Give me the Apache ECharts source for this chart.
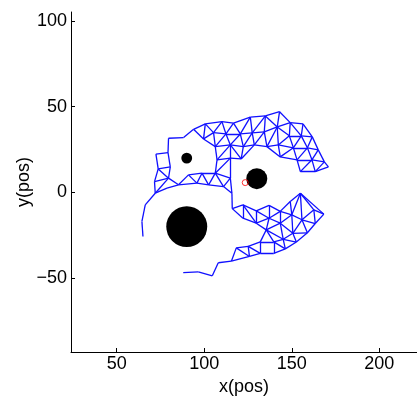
<!DOCTYPE html>
<html>
<head>
<meta charset="utf-8">
<script src="https://cdn.jsdelivr.net/npm/echarts@6/dist/echarts.min.js"></script>
<style>
  html, body { margin: 0; padding: 0; background: #fff; }
  #chart { width: 417px; height: 403px; }
</style>
</head>
<body>
<div id="chart"></div>
<script>
// Tick labels on each axis
const xTickValues = [50, 100, 150, 200];
const yTickValues = [-50, 0, 50, 100];

// Obstacles: centre and radius (data units)
const obstacleX = [90, 130, 90];
const obstacleY = [-20, 8, 20];
const obstacleR = [11.7, 6.0, 3.1];

// Target point
const targetX = [123.4];
const targetY = [5.7];

// Mesh nodes, left "head" part
const headNodes = {
  a1: [79.6, 31.6], a2: [88.2, 32.0], a3: [93.9, 36.8], a4: [79.3, 23.2],
  a5: [72.4, 22.3], a6: [73.7, 13.7], a7: [80.6, 14.9], a8: [71.6, 6.3],
  a9: [79.6, 8.3], a10: [72.0, -0.5], a11: [66.3, -7.3], a12: [64.4, -17.0],
  a13: [65.0, -25.8],
  d1: [78.7, 2.5], d2: [85.3, 4.4], d5: [91.0, 10.2], d3: [95.8, 5.4],
  d6: [98.7, 11.2], d4: [102.5, 4.4],
  c3: [106.3, 11.2], c5: [111.0, 3.4], c6: [115.8, -0.5], c4: [114.9, 8.3],
  c2: [114.9, 20.0],
  b1: [100.6, 40.0], b2: [99.6, 31.2], b3: [105.3, 34.9], b4: [110.1, 41.3],
  b6: [112.4, 34.1], b7: [106.3, 26.7], b8: [107.3, 19.0]
};

// Mesh nodes, upper band
const upperNodes = {
  t0: [116.7, 40.4], t1: [126.3, 43.9], t2: [134.9, 44.6], t3: [143.0, 47.1],
  t4: [149.1, 40.7], t5: [156.4, 40.0],
  r1b: [120.6, 34.1], r1c: [127.4, 34.7], r1d: [134.3, 35.3], r1e: [141.7, 38.2],
  r1f: [148.6, 33.0], r1g: [155.4, 33.0], r1h: [161.7, 32.4],
  r2b: [114.9, 27.7], r2c: [122.3, 26.7], r2d: [128.6, 27.7], r2e: [135.8, 26.7],
  r2f: [142.3, 27.7], r2g: [150.9, 26.0], r2h: [158.9, 26.0], r2i: [165.1, 24.8],
  r3c: [121.1, 19.5], r3d: [143.4, 20.7], r3e: [153.0, 19.0], r3f: [161.5, 19.0],
  r3g: [168.6, 17.8],
  r4a: [154.9, 12.1], r4b: [163.4, 12.1], r4c: [170.9, 14.9]
};

// Mesh nodes, lower band and tail
const lowerNodes = {
  u0: [116.0, -9.5], u1: [122.1, -7.3], u2: [129.7, -10.8], u3: [137.0, -7.6],
  u4: [143.4, -11.1], u5: [149.1, -5.3], u6: [154.9, -0.5],
  m0: [122.1, -15.1], m1: [129.7, -18.0], m2: [137.0, -15.1], m3: [143.4, -18.0],
  m4: [150.0, -13.1], m5: [155.8, -16.0], m6: [162.6, -10.2], m7: [168.3, -12.7],
  l0: [135.4, -21.9], l1: [145.1, -27.4], l2: [150.6, -23.9], l3: [163.4, -18.2],
  q0: [152.6, -29.0], q1: [158.9, -23.6],
  p0: [132.0, -28.9], p1: [139.7, -28.9], p2: [132.0, -35.6], p3: [139.7, -35.6],
  p4: [146.3, -33.0], p5: [125.1, -31.5], p6: [118.3, -32.4], p7: [115.5, -40.2],
  p8: [125.8, -37.4],
  ta: [108.0, -41.1], tb: [104.6, -48.7], tc: [96.6, -46.4], td: [88.0, -46.9]
};

// Closed cells of the mesh
const cells = [
  ['a5', 'a4', 'a7', 'a6'], ['a6', 'a7', 'a9'], ['a6', 'a8', 'a9'], ['a8', 'a9', 'a10'],
  ['d2', 'd5', 'd3'], ['d5', 'd3', 'd6'], ['d3', 'd6', 'd4'], ['d6', 'd4', 'c3'], ['d4', 'c3', 'c5'],
  ['b8', 'c2', 'c3'], ['c2', 'c3', 'c4'], ['c3', 'c4', 'c5'], ['c4', 'c5', 'c6'],
  ['a3', 'b1', 'b2'], ['b1', 'b2', 'b3'], ['b1', 'b3', 'b4'], ['b3', 'b4', 'b6'],
  ['b4', 't0', 'b6'], ['b2', 'b3', 'b7'], ['b3', 'b6', 'b7'],
  ['b6', 't0', 'r1b'], ['t0', 't1', 'r1b'], ['t1', 'r1b', 'r1c'], ['t1', 't2', 'r1c'],
  ['t2', 'r1c', 'r1d'], ['t2', 'r1d', 'r1e'], ['t2', 't3', 'r1e'], ['t3', 't4', 'r1e'],
  ['t4', 'r1e', 'r1f'], ['t4', 'r1f', 'r1g'], ['t4', 't5', 'r1g'], ['t5', 'r1g', 'r1h'],
  ['b6', 'b7', 'r2b'], ['b6', 'r1b', 'r2b'], ['r1b', 'r2b', 'r2c'], ['r1b', 'r1c', 'r2c'],
  ['r1c', 'r2c', 'r2d'], ['r1c', 'r1d', 'r2d'], ['r1d', 'r2d', 'r2e'], ['r1d', 'r1e', 'r2e'],
  ['r1e', 'r2e', 'r2f'], ['r1e', 'r1f', 'r2f'], ['r1f', 'r2f', 'r2g'], ['r1f', 'r1g', 'r2g'],
  ['r1g', 'r2g', 'r2h'], ['r1g', 'r1h', 'r2h'], ['r1h', 'r2h', 'r2i'],
  ['b7', 'b8', 'r2b'], ['b8', 'c2', 'r2b'], ['c2', 'r2b', 'r3c'], ['r2b', 'r2c', 'r3c'],
  ['r2c', 'r2d', 'r3c'], ['r2e', 'r2f', 'r3d'], ['r2f', 'r2g', 'r3d'], ['r2g', 'r3d', 'r3e'],
  ['r2g', 'r2h', 'r3e'], ['r2h', 'r3e', 'r3f'], ['r2h', 'r2i', 'r3f'], ['r2i', 'r3f', 'r3g'],
  ['r3e', 'r3f', 'r4a'], ['r3f', 'r4a', 'r4b'], ['r3f', 'r3g', 'r4b'], ['r3g', 'r4b', 'r4c'],
  ['u0', 'u1', 'm0'], ['u1', 'm0', 'm1'], ['u1', 'u2', 'm1'], ['u2', 'm1', 'm2'],
  ['u2', 'u3', 'm2'], ['u3', 'u4', 'm2'], ['u4', 'm2', 'm3'], ['u4', 'm3', 'm4'],
  ['u4', 'u5', 'm4'], ['u5', 'u6', 'm4'], ['u6', 'm4', 'm5'], ['u6', 'm5', 'm6'], ['u6', 'm6', 'm7'],
  ['m1', 'm2', 'l0'], ['m2', 'm3', 'l0'], ['m3', 'l0', 'l1'], ['m3', 'l1', 'l2'],
  ['m3', 'm4', 'l2'], ['m4', 'm5', 'l2'], ['m5', 'm6', 'l3'], ['m6', 'm7', 'l3'],
  ['m5', 'l2', 'q1'], ['m5', 'q1', 'l3'], ['l1', 'l2', 'q0'], ['l2', 'q0', 'q1'],
  ['l0', 'p0', 'p1'], ['l0', 'p1', 'l1'], ['p0', 'p1', 'p3', 'p2'], ['p1', 'p3', 'p4'],
  ['l1', 'p1', 'p4'], ['l1', 'p4', 'q0'],
  ['p5', 'p0', 'p2'], ['p5', 'p2', 'p8'], ['p6', 'p5', 'p8'], ['p6', 'p7', 'p8']
];

// Open chains of the mesh
const chains = [
  ['a5', 'a4', 'a1', 'a2', 'a3'],
  ['a10', 'a11', 'a12', 'a13'],
  ['a10', 'd1', 'd2'], ['a9', 'd2'],
  ['c6', 'u0'],
  ['p7', 'ta', 'tb', 'tc', 'td']
];

const nodes = Object.assign({}, headNodes, upperNodes, lowerNodes);

// Collect unique edges from cells and chains
const edgeSet = new Set();
const edges = [];
function addEdge(a, b) {
  const key = a < b ? a + '|' + b : b + '|' + a;
  if (edgeSet.has(key)) return;
  edgeSet.add(key);
  edges.push({ coords: [nodes[a], nodes[b]] });
}
cells.forEach(c => {
  for (let i = 0; i < c.length; i++) addEdge(c[i], c[(i + 1) % c.length]);
});
chains.forEach(c => {
  for (let i = 0; i + 1 < c.length; i++) addEdge(c[i], c[i + 1]);
});

const fontFamily = '"Liberation Sans", Arial, Helvetica, sans-serif';
const minus = v => String(v).replace('-', '\u2212');

const chart = echarts.init(document.getElementById('chart'), null, { renderer: 'canvas' });
chart.setOption({
  animation: false,
  backgroundColor: '#ffffff',
  grid: { left: 71, right: 0, top: 12, bottom: 51, containLabel: false },
  xAxis: {
    type: 'value', min: 23.9, max: 221.5,
    name: 'x(pos)', nameLocation: 'middle', nameGap: 26, nameMoveOverlap: false,
    nameTextStyle: { color: '#000', fontSize: 18, fontFamily: fontFamily },
    axisLine: { show: true, onZero: false, lineStyle: { color: '#000', width: 1 } },
    axisTick: { show: true, inside: true, length: 4, customValues: xTickValues, lineStyle: { color: '#000' } },
    axisLabel: { customValues: xTickValues, color: '#000', fontSize: 18, fontFamily: fontFamily, margin: 3, formatter: minus },
    splitLine: { show: false }
  },
  yAxis: {
    type: 'value', min: -93.2, max: 105.3,
    name: 'y(pos)', nameLocation: 'middle', nameGap: 38, nameMoveOverlap: false,
    nameTextStyle: { color: '#000', fontSize: 18, fontFamily: fontFamily },
    axisLine: { show: true, onZero: false, lineStyle: { color: '#000', width: 1 } },
    axisTick: { show: true, inside: true, length: 4, customValues: yTickValues, lineStyle: { color: '#000' } },
    axisLabel: { customValues: yTickValues, color: '#000', fontSize: 18, fontFamily: fontFamily, margin: 4, formatter: minus },
    splitLine: { show: false }
  },
  series: [
    {
      type: 'lines',
      coordinateSystem: 'cartesian2d',
      silent: true,
      lineStyle: { color: '#1010ff', width: 1.3, opacity: 1 },
      data: edges,
      z: 2
    },
    {
      type: 'custom',
      coordinateSystem: 'cartesian2d',
      silent: true,
      data: obstacleX.map((x, i) => [x, obstacleY[i], obstacleR[i]]),
      renderItem: function (params, api) {
        const c = api.coord([api.value(0), api.value(1)]);
        const s = api.size([api.value(2), api.value(2)]);
        return { type: 'circle', shape: { cx: c[0], cy: c[1], r: s[0] }, style: { fill: '#000' } };
      },
      z: 3
    },
    {
      type: 'scatter',
      silent: true,
      symbol: 'circle',
      symbolSize: 6,
      itemStyle: { color: 'rgba(0,0,0,0)', borderColor: '#ff0000', borderWidth: 1 },
      data: targetX.map((x, i) => [x, targetY[i]]),
      z: 4
    }
  ]
});
</script>
</body>
</html>
